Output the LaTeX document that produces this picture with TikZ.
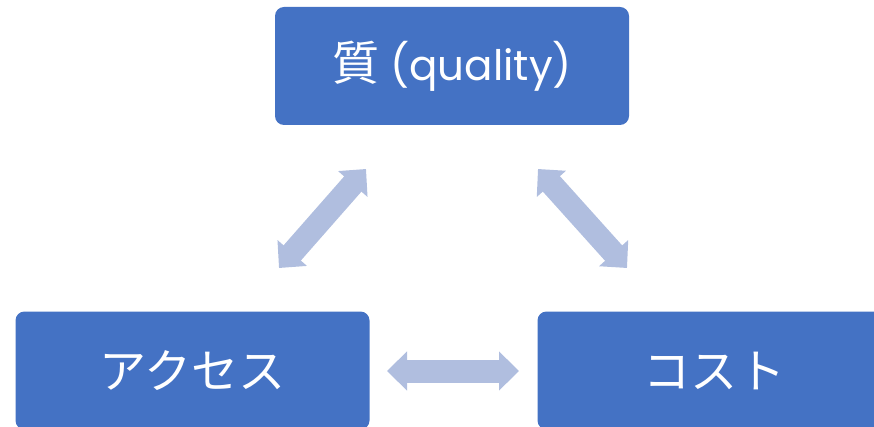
\documentclass[tikz,border=0pt]{standalone}
\usepackage{fontspec}
\setmainfont{Poppins}
\newfontfamily\cjk[Scale=1.12]{Noto Sans CJK JP}
\usetikzlibrary{arrows.meta}
\definecolor{boxblue}{HTML}{4472C4}
\definecolor{arrowblue}{HTML}{B0BEDF}
\tikzset{
	triadbox/.style={fill=boxblue, rounded corners=9pt, minimum width=354pt, minimum height=118pt, text=white, inner sep=0pt, font=\fontsize{42}{48}\selectfont},
	fatarrow/.style={draw=arrowblue, line width=23pt, {Triangle[width=38pt,length=20pt]}-{Triangle[width=38pt,length=20pt]}}
}

\begin{document}
\begin{tikzpicture}[x=1pt, y=-1pt]
		%%%%% START %%%%%
		\useasboundingbox (0, 0) rectangle (874, 427);
		\clip (0, 0) rectangle (874, 427);
		
		\node[triadbox] (qual) at (452, 66) {{\cjk 質} (quality)};
		\node[triadbox] (acc) at (192.5, 370.5) {\cjk アクセス};
		\node[triadbox] (cost) at (714.5, 370.5) {\cjk コスト};
		
		% arrow ends
		\coordinate (qa) at (366, 169);
		\coordinate (aq) at (279, 268);
		\coordinate (qc) at (538, 169);
		\coordinate (cq) at (627, 268);
		\coordinate (ac) at (387, 371);
		\coordinate (ca) at (519, 371);
		
		\draw[fatarrow] (qa) -- (aq);
		\draw[fatarrow] (qc) -- (cq);
		\draw[fatarrow] (ac) -- (ca);
		
		%%%%% END %%%%%
	\end{tikzpicture}
\end{document}
